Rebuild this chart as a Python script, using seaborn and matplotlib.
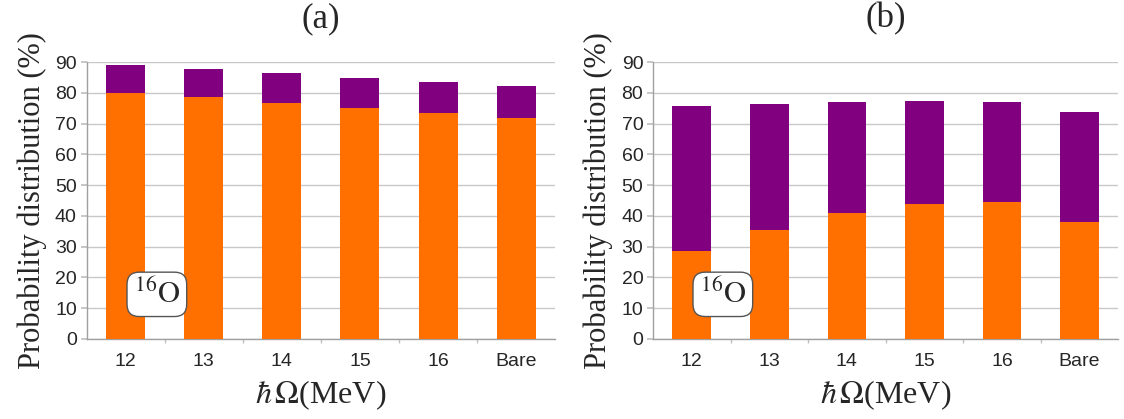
import matplotlib
matplotlib.use("Agg")
import matplotlib.pyplot as plt
import seaborn as sns
import pandas as pd
from matplotlib.ticker import FixedLocator

categories = ["12", "13", "14", "15", "16", "Bare"]
a_lower = [80.0, 78.5, 76.8, 75.2, 73.5, 71.8]
a_total = [89.0, 87.7, 86.3, 84.8, 83.6, 82.3]
b_lower = [28.5, 35.3, 41.0, 44.0, 44.5, 38.0]
b_total = [75.6, 76.2, 76.9, 77.2, 76.9, 73.8]
yticks = [0, 10, 20, 30, 40, 50, 60, 70, 80, 90]
titles = ["(a)", "(b)"]

sns.set_theme(style="white")
plt.rcParams['font.family'] = ['Liberation Sans', 'DejaVu Sans']
plt.rcParams['mathtext.fontset'] = 'stix'

ORANGE = "#ff7000"
PURPLE = "#800080"
GRID = "#c8c8c8"
SERIF = "Liberation Serif"

fig = plt.figure(figsize=(11.24, 4.19), dpi=100)
axes = [fig.add_axes([0.077, 0.191, 0.417, 0.661]),
        fig.add_axes([0.581, 0.191, 0.414, 0.661])]

for ax, lower, total, title in zip(axes, [a_lower, b_lower], [a_total, b_total], titles):
    df = pd.DataFrame({"cat": categories, "lower": lower, "total": total})
    sns.barplot(data=df, x="cat", y="total", order=categories, color=PURPLE,
                saturation=1, width=0.5, ax=ax, zorder=3, linewidth=0)
    sns.barplot(data=df, x="cat", y="lower", order=categories, color=ORANGE,
                saturation=1, width=0.5, ax=ax, zorder=4, linewidth=0)
    ax.set_ylim(0, 90)
    ax.set_xlim(-0.5, 5.5)
    ax.set_yticks(yticks)
    ax.yaxis.grid(True, color=GRID, linewidth=1, zorder=0)
    ax.set_axisbelow(True)
    for s in ["top", "right"]:
        ax.spines[s].set_visible(False)
    for s in ["left", "bottom"]:
        ax.spines[s].set_color("#a0a0a0")
        ax.spines[s].set_linewidth(1)
    ax.tick_params(axis="y", which="major", length=4, color="#c0c0c0", labelsize=14, pad=3, left=True)
    ax.tick_params(axis="x", which="major", length=0, labelsize=14, pad=10)
    ax.xaxis.set_minor_locator(FixedLocator([0.5, 1.5, 2.5, 3.5, 4.5]))
    ax.tick_params(axis="x", which="minor", length=3, color="#c0c0c0", bottom=True)
    ax.set_xlabel(r"$\hbar\,\Omega$(MeV)", fontsize=23, family=SERIF, labelpad=6)
    ax.set_ylabel("Probability distribution (%)", fontsize=22, family=SERIF, labelpad=6)
    ax.set_title(title, fontsize=25, family=SERIF, pad=25)
    ax.text(0.40, 14.5, r"$^{16}\mathrm{O}$", fontsize=22,
            ha="center", va="center", zorder=6,
            bbox=dict(boxstyle="round,pad=0.22,rounding_size=0.4", fc="white", ec="#555555", lw=1))

fig.savefig("out.png", dpi=100)
